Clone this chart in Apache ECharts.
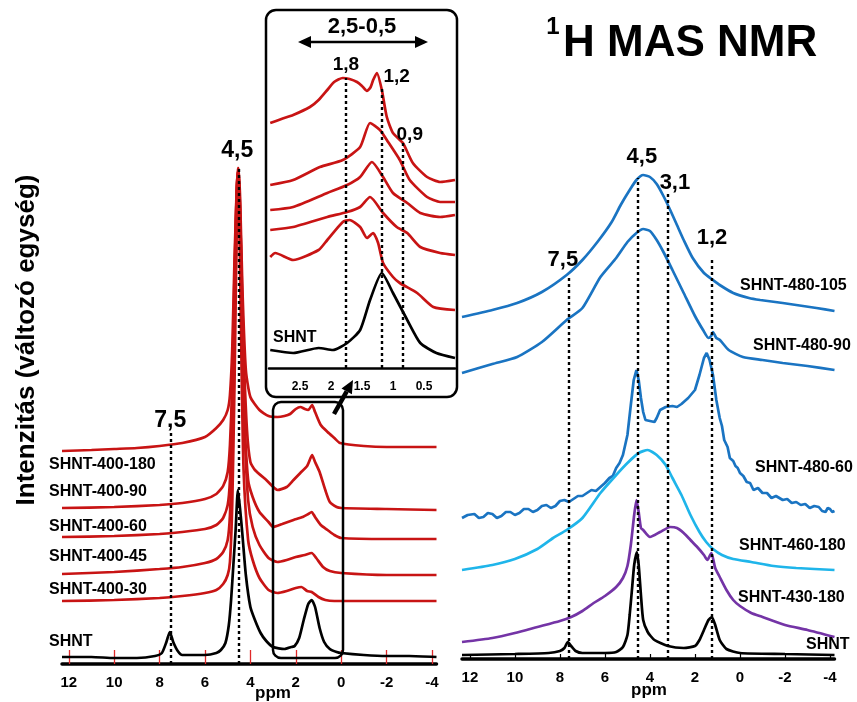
<!DOCTYPE html>
<html><head><meta charset="utf-8">
<script src="https://cdn.jsdelivr.net/npm/echarts@6/dist/echarts.min.js"></script>
<style>html,body{margin:0;padding:0;background:#fff}#c{width:857px;height:702px}</style>
</head><body><div id="c"></div>
<script>
// ---------- DATA ----------
const ppmTicks = [12, 10, 8, 6, 4, 2, 0, -2, -4];
const insetTicks = [2.5, 2, 1.5, 1, 0.5];

const leftNames = ['SHNT-400-180', 'SHNT-400-90', 'SHNT-400-60', 'SHNT-400-45', 'SHNT-400-30', 'SHNT'];
const rightNames = ['SHNT-480-105', 'SHNT-480-90', 'SHNT-480-60', 'SHNT-460-180', 'SHNT-430-180', 'SHNT'];

// left panel, stacked intensity (arbitrary units) vs ppm
const s400_180 = [[12.3,213],[11,214],[10,215],[9,216],[8,218],[7,221],[6,227],[5.5,236],[5.2,244],[5.0,254],[4.9,269],[4.8,314],[4.7,404],[4.6,474],[4.52,496],[4.45,464],[4.35,374],[4.2,294],[4.0,267],[3.6,254],[3.2,248],[2.8,247],[2.5,248],[2.25,250],[2.0,255],[1.8,257],[1.6,255],[1.45,254],[1.28,259],[1.15,252],[0.9,239],[0.6,232],[0.3,226],[0.05,221],[-1,218],[-2,217],[-3,217],[-4.2,217]];
const s400_90 = [[12.3,156],[10,157],[8,159],[7,161],[6,165],[5.5,170],[5.2,178],[5.0,192],[4.9,219],[4.8,279],[4.7,389],[4.6,474],[4.55,496],[4.48,474],[4.4,404],[4.3,314],[4.15,234],[4.0,202],[3.8,194],[3.3,184],[2.8,174],[2.4,177],[2.1,184],[1.8,191],[1.5,198],[1.35,206],[1.28,209],[1.15,202],[0.95,192],[0.7,174],[0.5,162],[0.2,157],[0,156],[-2,155],[-4.2,154]];
const s400_60 = [[12.3,127],[10,128],[8,130],[7,132],[6,135],[5.5,139],[5.2,146],[5.0,159],[4.9,184],[4.8,254],[4.7,364],[4.62,464],[4.56,492],[4.48,454],[4.4,364],[4.3,264],[4.1,184],[3.9,167],[3.6,152],[3.2,142],[3.0,137],[2.6,140],[2.1,144],[1.7,147],[1.45,150],[1.3,152],[1.15,147],[0.9,139],[0.6,134],[0.3,129],[0,126],[-2,125],[-4.2,125]];
const s400_45 = [[12.3,90],[10,92],[8,95],[7,97],[6,101],[5.5,105],[5.2,112],[5.0,124],[4.9,149],[4.8,214],[4.7,334],[4.6,444],[4.52,489],[4.45,449],[4.35,344],[4.25,234],[4.1,164],[3.9,137],[3.6,119],[3.2,106],[2.8,102],[2.4,104],[2.0,107],[1.6,109],[1.3,111],[1.1,106],[0.8,97],[0.5,93],[0,91],[-2,89],[-4.2,89]];
const s400_30 = [[12.3,63],[10,64],[8,66],[7,68],[6,71],[5.5,74],[5.2,80],[5.0,89],[4.9,102],[4.8,159],[4.7,279],[4.62,409],[4.55,484],[4.48,434],[4.4,314],[4.3,194],[4.1,124],[3.9,104],[3.6,86],[3.2,74],[2.8,71],[2.4,73],[2.0,76],[1.75,77],[1.5,73],[1.3,72],[1.0,67],[0.7,64],[0.3,63],[-2,63],[-4.2,63]];
const shntLeft = [[12.3,7],[11,7],[10,6],[9,6],[8.2,8],[7.9,11],[7.7,22],[7.55,32],[7.4,22],[7.2,13],[7.0,9],[6.0,9],[5.5,11],[5.3,14],[5.1,21],[4.95,39],[4.85,64],[4.75,99],[4.65,134],[4.55,174],[4.45,154],[4.35,129],[4.2,89],[4.0,57],[3.8,44],[3.55,31],[3.3,23],[3.0,17],[2.5,15],[2.2,17],[2.05,18],[1.85,26],[1.65,44],[1.45,60],[1.3,64],[1.15,57],[0.95,36],[0.75,22],[0.5,15],[0.2,12],[0,11],[-1,9],[-2,8],[-3,8],[-4.2,7]];

// inset 3.0 - 0.0 ppm
const i400_180 = [[2.98,245],[2.8,249],[2.61,253],[2.34,261],[2.2,268],[2.06,278],[1.95,286],[1.81,290],[1.7,289],[1.58,286],[1.5,282],[1.42,277],[1.36,281],[1.32,288],[1.26,295],[1.18,278],[1.10,251],[1.0,235],[0.84,225],[0.68,205],[0.45,191],[0.24,186],[0.0,188]];
const i400_90 = [[2.98,183],[2.61,188],[2.18,201],[1.81,208],[1.53,221],[1.37,245],[1.21,238],[1.10,228],[0.89,208],[0.73,188],[0.45,171],[0.24,166],[0.0,166]];
const i400_60 = [[2.98,158],[2.61,161],[2.06,175],[1.74,183],[1.53,191],[1.34,206],[1.16,191],[1.0,175],[0.77,165],[0.56,155],[0.24,151],[0.0,153]];
const i400_45 = [[2.98,138],[2.61,141],[2.06,151],[1.74,156],[1.53,161],[1.37,171],[1.16,155],[0.94,141],[0.77,135],[0.56,121],[0.24,115],[0.0,113]];
const i400_30 = [[2.98,111],[2.9,115],[2.61,108],[2.2,118],[2.06,128],[1.81,146],[1.70,148],[1.53,141],[1.42,130],[1.32,135],[1.24,125],[1.16,105],[1.0,91],[0.89,85],[0.61,75],[0.35,61],[0.0,58]];
const iShnt = [[2.98,18],[2.61,15],[2.2,20],[1.97,18],[1.74,25],[1.53,38],[1.37,68],[1.18,95],[1.0,75],[0.77,48],[0.56,25],[0.3,15],[0.0,10]];

// right panel
const s480_105 = [[12.35,342],[11,349],[9.9,356],[8.8,367],[7.7,384],[7.0,399],[6.3,418],[5.7,437],[5.3,454],[4.9,469],[4.6,479],[4.3,484],[4.0,482],[3.7,475],[3.4,463],[3.1,449],[2.8,434],[2.5,419],[2.1,401],[1.6,386],[1.2,379],[0.9,374],[0.3,366],[-0.4,361],[-0.9,359],[-1.9,356],[-3.4,351],[-4.2,348]];
const s480_90 = [[12.35,286],[11,295],[9.9,302],[8.8,317],[7.7,339],[7,351],[6.2,382],[5.5,401],[5.0,417],[4.6,426],[4.3,430],[4.0,428],[3.7,419],[3.4,407],[3.0,389],[2.5,366],[2.0,343],[1.64,329],[1.4,321],[1.28,323],[1.2,327],[1.05,321],[0.89,319],[0.5,309],[-0.13,302],[-1.0,299],[-1.9,296],[-3.0,293],[-4.2,289]];
const s480_60 = [[12.35,141],[12.1,144],[11.8,145],[11.6,141],[11.4,142],[11.2,146],[11,145],[10.8,141],[10.6,143],[10.4,147],[10.2,147],[10.0,144],[9.8,146],[9.6,150],[9.4,150],[9.2,147],[9.0,149],[8.8,153],[8.6,154],[8.4,151],[8.2,153],[8.0,158],[7.8,159],[7.6,157],[7.4,160],[7.2,163],[7.0,163],[6.8,166],[6.6,169],[6.4,168],[6.2,172],[6.0,176],[5.8,181],[5.65,183],[5.5,191],[5.35,196],[5.2,204],[5.0,224],[4.85,254],[4.72,279],[4.6,289],[4.5,279],[4.4,261],[4.3,247],[4.2,239],[4.0,238],[3.8,237],[3.7,241],[3.55,249],[3.3,252],[3.0,253],[2.8,252],[2.6,255],[2.3,261],[2.0,269],[1.8,284],[1.6,301],[1.48,306],[1.35,299],[1.2,284],[1.05,259],[0.9,241],[0.8,233],[0.7,219],[0.55,212],[0.45,201],[0.3,198],[0.2,193],[0.1,191],[0.0,186],[-0.15,183],[-0.3,177],[-0.45,176],[-0.6,169],[-0.8,171],[-1.0,166],[-1.2,166],[-1.4,161],[-1.6,163],[-1.9,159],[-2.1,160],[-2.3,156],[-2.5,157],[-2.7,154],[-2.9,155],[-3.1,151],[-3.3,153],[-3.5,152],[-3.65,148],[-3.8,147],[-3.9,151],[-4.0,150],[-4.1,147],[-4.2,148]];
const s460_180 = [[12.35,89],[11,94],[10,100],[9,110],[8.3,121],[7.7,129],[7,141],[6.2,166],[5.5,184],[5.0,196],[4.5,206],[4.1,209],[3.7,204],[3.3,194],[3.0,181],[2.6,164],[2.2,144],[1.8,127],[1.5,117],[1.2,110],[0.8,104],[0.3,100],[-0.5,97],[-1.5,93],[-2.5,91],[-4.2,89]];
const s430_180 = [[12.35,17],[11,21],[10,26],[9,32],[8,38],[7.5,42],[7,48],[6.5,56],[6,63],[5.5,72],[5.2,81],[5.0,93],[4.85,114],[4.7,144],[4.6,159],[4.5,147],[4.4,131],[4.3,129],[4.0,122],[3.55,127],[3.1,132],[2.8,131],[2.5,126],[2.2,119],[1.9,112],[1.6,104],[1.45,99],[1.27,106],[1.1,91],[0.9,82],[0.6,69],[0.3,59],[0.0,53],[-0.5,46],[-1,42],[-2,34],[-3,29],[-4.2,22]];
const shntRight = [[12.35,4],[10,5],[8.5,6],[8.0,8],[7.8,11],[7.65,17],[7.5,13],[7.3,8],[7.0,6],[6.0,6],[5.5,7],[5.2,12],[5.0,24],[4.9,44],[4.8,69],[4.7,94],[4.58,107],[4.5,94],[4.4,64],[4.3,39],[4.1,27],[3.8,19],[3.2,13],[2.5,11],[2.0,13],[1.8,19],[1.6,29],[1.4,39],[1.25,42],[1.1,34],[0.9,19],[0.6,10],[0.0,6],[-2,5],[-4.2,4]];

// guide lines [ppm, top] and peak labels [text, ppm, value]
const leftGuides = [[7.5, 232], [4.5, 496]];
const insetGuides = [[1.76, 290], [1.18, 281], [0.84, 225]];
const rightGuides = [[7.6, 384], [4.55, 481], [3.2, 466], [1.25, 402]];
const leftPeakLabels = [['4,5', 4.58, 513], ['7,5', 7.53, 243]];
const insetPeakLabels = [['1,8', 1.76, 303], ['1,2', 0.94, 291], ['0,9', 0.73, 233]];
const rightPeakLabels = [['7,5', 7.87, 399], ['4,5', 4.36, 502], ['3,1', 2.89, 476], ['1,2', 1.24, 421]];

// ---------- CHART ----------
const FONT = '"Liberation Sans", Arial, sans-serif';
const RED = '#c81414', BLUE = '#1a74c2', LBLUE = '#1fb5ea', PURPLE = '#7434a6', BLACK = '#000';
const chart = echarts.init(document.getElementById('c'), null, {renderer: 'canvas'});

function guideLine(g) {
  return {
    symbol: 'none', silent: true, animation: false,
    lineStyle: {type: [3, 3], color: BLACK, width: 2.4},
    label: {show: false},
    data: g.map(([p, t]) => [{coord: [p, 0]}, {coord: [p, t]}])
  };
}
function line(data, color, idx, guides, smooth) {
  const s = {type: 'line', xAxisIndex: idx, yAxisIndex: idx, data, symbol: 'none', showSymbol: false,
    smooth: smooth === undefined ? 0.2 : smooth, silent: true, animation: false,
    lineStyle: {color, width: 2.7}, z: color === BLACK ? 3 : 2};
  if (guides) s.markLine = guideLine(guides);
  return s;
}
const labelStyle = (size) => ({fontFamily: FONT, fontWeight: 'bold', fontSize: size, color: BLACK});

const option = {
  animation: false,
  backgroundColor: '#fff',
  grid: [
    {left: 62, right: 420.5, top: 100, bottom: 38},
    {left: 269, right: 402, top: 60, bottom: 334},
    {left: 462, right: 22.5, top: 100, bottom: 43}
  ],
  xAxis: [
    {gridIndex: 0, type: 'value', min: -4.2, max: 12.3, inverse: true,
      axisLine: {lineStyle: {color: BLACK, width: 3.5}},
      axisTick: {show: true, inside: true, length: 14, customValues: ppmTicks, lineStyle: {color: '#e02a2a', width: 1.3}},
      axisLabel: Object.assign({customValues: ppmTicks, margin: 11}, labelStyle(15)),
      splitLine: {show: false}},
    {gridIndex: 1, type: 'value', min: 0, max: 3, inverse: true,
      axisLine: {lineStyle: {color: BLACK, width: 2.5}},
      axisTick: {show: false},
      axisLabel: Object.assign({customValues: insetTicks, margin: 13}, labelStyle(12)),
      splitLine: {show: false}},
    {gridIndex: 2, type: 'value', min: -4.2, max: 12.35, inverse: true,
      axisLine: {lineStyle: {color: BLACK, width: 3.5}},
      axisTick: {show: true, inside: true, length: 5, customValues: ppmTicks, lineStyle: {color: BLACK, width: 1.2}},
      axisLabel: Object.assign({customValues: ppmTicks, margin: 11}, labelStyle(15)),
      splitLine: {show: false}}
  ],
  yAxis: [
    {gridIndex: 0, type: 'value', min: 0, max: 564, show: false},
    {gridIndex: 1, type: 'value', min: 0, max: 308, show: false},
    {gridIndex: 2, type: 'value', min: 0, max: 559, show: false}
  ],
  series: [
    line(s400_180, RED, 0), line(s400_90, RED, 0), line(s400_60, RED, 0),
    line(s400_45, RED, 0), line(s400_30, RED, 0), line(shntLeft, BLACK, 0, leftGuides),
    line(i400_180, RED, 1), line(i400_90, RED, 1), line(i400_60, RED, 1),
    line(i400_45, RED, 1), line(i400_30, RED, 1), line(iShnt, BLACK, 1, insetGuides),
    line(s480_105, BLUE, 2), line(s480_90, BLUE, 2), line(s480_60, BLUE, 2, null, false),
    line(s460_180, LBLUE, 2), line(s430_180, PURPLE, 2), line(shntRight, BLACK, 2, rightGuides)
  ]
};
chart.setOption(option);

function txt(text, x, y, size, align, extra) {
  return Object.assign({type: 'text', x, y, silent: true, z: 10,
    style: {text, font: 'bold ' + size + 'px ' + FONT, fill: BLACK, align: align || 'center', verticalAlign: 'middle'}}, extra || {});
}
const g = [];
// titles
g.push(txt('1', 553, 27, 24));
g.push(txt('H MAS NMR', 563, 44, 44, 'left'));
g.push(txt('Intenzitás (változó egység)', 27, 340, 26, 'center', {rotation: Math.PI / 2}));
// peak labels
function peakLabels(list, gi, size) {
  list.forEach(([t, p, v]) => {
    const pt = chart.convertToPixel({gridIndex: gi}, [p, v]);
    g.push(txt(t, pt[0], pt[1], size));
  });
}
peakLabels(leftPeakLabels, 0, 23);
peakLabels(insetPeakLabels, 1, 19);
peakLabels(rightPeakLabels, 2, 22);
// series names
const leftY = [465, 492, 527, 557, 590, 642];
leftNames.forEach((n, i) => g.push(txt(n, 49, leftY[i], 16, 'left')));
const rightX = [740, 753, 755, 739, 738, 806], rightY = [286, 346, 468, 546, 598, 645];
rightNames.forEach((n, i) => g.push(txt(n, rightX[i], rightY[i], 16, 'left')));
g.push(txt('SHNT', 273, 338, 16, 'left'));
// ppm labels
g.push(txt('ppm', 273, 693, 17));
g.push(txt('ppm', 649, 690, 17));
// inset frame and zoom box
g.push({type: 'rect', silent: true, z: 9, shape: {x: 266, y: 10, width: 191, height: 387, r: 10},
  style: {fill: 'none', stroke: BLACK, lineWidth: 2.5}});
g.push({type: 'rect', silent: true, z: 9, shape: {x: 273, y: 402, width: 70, height: 256, r: 8},
  style: {fill: 'none', stroke: BLACK, lineWidth: 2.5}});
// pointer arrow
g.push({type: 'line', silent: true, z: 9, shape: {x1: 334, y1: 414, x2: 346.7, y2: 391.4},
  style: {stroke: BLACK, lineWidth: 4.5}});
g.push({type: 'polygon', silent: true, z: 9, shape: {points: [[353, 380], [351.9, 394.3], [341.5, 388.5]]},
  style: {fill: BLACK}});
// double arrow with range text
g.push(txt('2,5-0,5', 362, 27, 22));
g.push({type: 'line', silent: true, z: 9, shape: {x1: 306, y1: 42, x2: 420, y2: 42}, style: {stroke: BLACK, lineWidth: 2.5}});
g.push({type: 'polygon', silent: true, z: 9, shape: {points: [[298, 42], [311, 36], [311, 48]]}, style: {fill: BLACK}});
g.push({type: 'polygon', silent: true, z: 9, shape: {points: [[428, 42], [415, 36], [415, 48]]}, style: {fill: BLACK}});

chart.setOption({graphic: g});
</script>
</body></html>
